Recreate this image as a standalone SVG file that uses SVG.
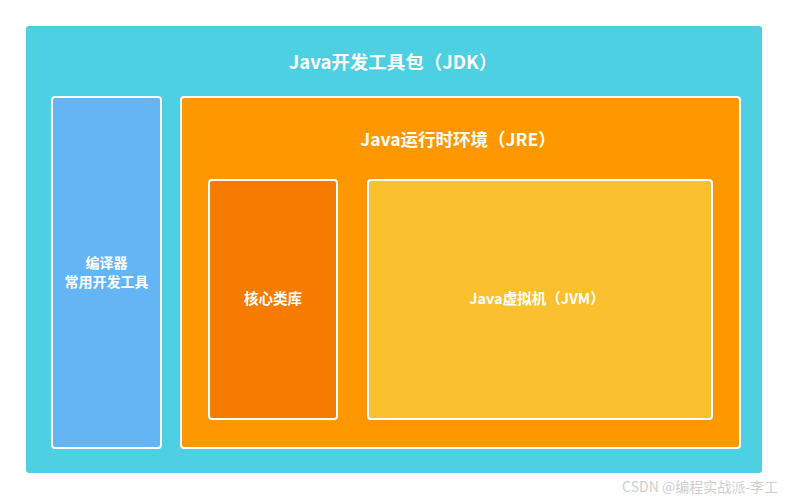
<svg xmlns="http://www.w3.org/2000/svg" width="788" height="500" viewBox="0 0 788 500">
<style>
.t{font-family:"Noto Sans CJK SC","Noto Sans",sans-serif;font-weight:bold;fill:#ffffff;text-anchor:middle}
.box{stroke:#ffffff;stroke-width:2}
</style>
<rect width="788" height="500" fill="#ffffff"/>
<g id="jdk">
<rect x="26" y="26" width="736" height="447" rx="3" fill="#4DD0E1"/>
<text class="t" x="393" y="68.5" font-size="18.5">Java开发工具包（JDK）</text>
</g>
<g id="tools">
<rect class="box" x="52" y="97" width="109" height="351" rx="3" fill="#64B5F6"/>
<text class="t" x="106.5" y="268" font-size="14">编译器</text>
<text class="t" x="106.5" y="287" font-size="14">常用开发工具</text>
</g>
<g id="jre">
<rect class="box" x="181" y="97" width="559" height="351" rx="3" fill="#FF9800"/>
<text class="t" x="458" y="146" font-size="17.5">Java运行时环境（JRE）</text>
</g>
<g id="corelib">
<rect class="box" x="209" y="180" width="128" height="239" rx="3" fill="#F57C00"/>
<text class="t" x="273" y="304" font-size="14.5">核心类库</text>
</g>
<g id="jvm">
<rect class="box" x="368" y="180" width="344" height="239" rx="3" fill="#FBC02D"/>
<text class="t" x="537" y="304" font-size="14.5">Java虚拟机（JVM）</text>
</g>
<g id="connectors"></g>
<text x="778" y="492" font-family="Noto Sans CJK SC,sans-serif" font-size="14" fill="#cfcfcf" text-anchor="end">CSDN @编程实战派-李工</text>
</svg>
